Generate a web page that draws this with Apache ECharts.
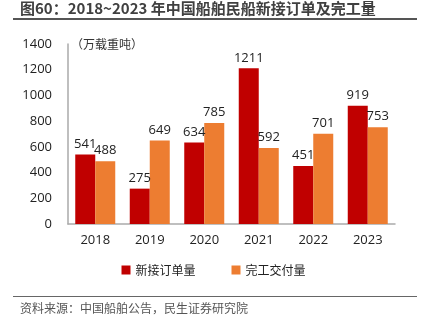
<!DOCTYPE html>
<html>
<head>
<meta charset="utf-8">
<script src="https://cdn.jsdelivr.net/npm/echarts@6/dist/echarts.min.js"></script>
<style>
  html, body { margin: 0; padding: 0; background: #fff; }
  #chart { width: 427px; height: 323px; }
</style>
</head>
<body>
<div id="chart"></div>
<script>
// 2018~2023 China civilian shipbuilding: new orders and completions (10k DWT)
const years = ['2018', '2019', '2020', '2021', '2022', '2023'];
const newOrders = [541, 275, 634, 1211, 451, 919];
const completions = [488, 649, 785, 592, 701, 753];
const yTicks = [0, 200, 400, 600, 800, 1000, 1200, 1400];

const chart = echarts.init(document.getElementById('chart'), null, { renderer: 'canvas' });

const cjk = '"Noto Sans CJK SC", "Noto Sans", sans-serif';
const num = '"Open Sans", "Noto Sans", sans-serif';

chart.setOption({
  animation: false,
  backgroundColor: '#ffffff',
  graphic: {
    elements: [
      { type: 'text', left: 20, top: 1, style: { text: '图60：2018~2023 年中国船舶民船新接订单及完工量', fill: '#404040', font: 'bold 15px ' + cjk } },
      // rule under the title and rule above the source note
      { type: 'line', silent: true, shape: { x1: 13, y1: 19, x2: 417, y2: 19 }, style: { stroke: '#555555', lineWidth: 2 } },
      { type: 'line', silent: true, shape: { x1: 13, y1: 296.5, x2: 417, y2: 296.5 }, style: { stroke: '#666666', lineWidth: 1 } },
      { type: 'text', left: 20, top: 302, style: { text: '资料来源：中国船舶公告，民生证券研究院', fill: '#555', font: '12px ' + cjk } },
      { type: 'text', left: 71, top: 38, style: { text: '（万载重吨）', fill: '#333', font: '12px ' + cjk } }
    ]
  },
  legend: {
    bottom: 42,
    left: 'center',
    itemWidth: 9,
    itemHeight: 9,
    itemGap: 36,
    icon: 'rect',
    textStyle: { fontFamily: cjk, fontSize: 12, color: '#222' },
    data: ['新接订单量', '完工交付量']
  },
  grid: { left: 68, right: 32, top: 44, bottom: 99 },
  xAxis: {
    type: 'category',
    data: years,
    axisLine: { lineStyle: { color: '#aaaaaa', width: 1.5 } },
    axisTick: { show: false },
    axisLabel: { fontFamily: num, fontSize: 13, color: '#222', margin: 10 }
  },
  yAxis: {
    type: 'value',
    min: yTicks[0],
    max: yTicks[yTicks.length - 1],
    interval: 200,
    axisLine: { show: true, lineStyle: { color: '#aaaaaa', width: 1.5 } },
    axisTick: { show: false },
    splitLine: { show: false },
    axisLabel: { fontFamily: num, fontSize: 13, color: '#222', margin: 16, formatter: v => String(v) }
  },
  series: [
    {
      name: '新接订单量',
      type: 'bar',
      data: newOrders,
      barWidth: 20,
      barGap: '0%',
      itemStyle: { color: '#C00000' },
      label: { show: true, position: 'top', fontFamily: num, fontSize: 13, color: '#222', distance: 4 }
    },
    {
      name: '完工交付量',
      type: 'bar',
      data: completions,
      barWidth: 20,
      itemStyle: { color: '#ED7D31' },
      label: { show: true, position: 'top', fontFamily: num, fontSize: 13, color: '#222', distance: 4 }
    }
  ]
});
</script>
</body>
</html>
